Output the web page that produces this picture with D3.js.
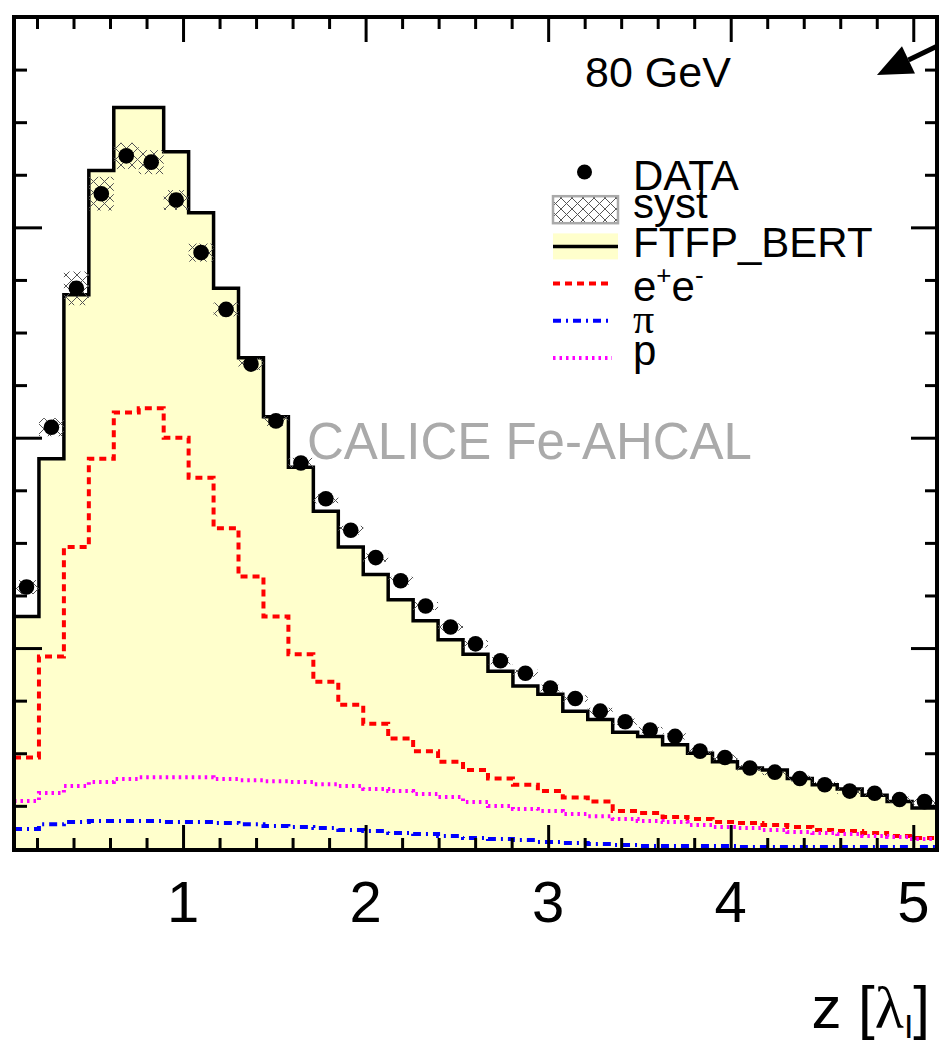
<!DOCTYPE html>
<html>
<head>
<meta charset="utf-8">
<script src="https://cdnjs.cloudflare.com/ajax/libs/d3/7.8.5/d3.min.js"></script>
<style>
body { margin: 0; background: #fff; }
svg { display: block; font-family: "Liberation Sans", Arial, Helvetica, sans-serif; }
</style>
</head>
<body>
<div id="chart-container"></div>
<script>
const w = 939;
const h = 1045;

// z binning (lambda_I), one bin per layer
const Z_LOW = 0.074;
const Z_HIGH = 5.13;
const N_BINS = 37;

// 1/N dN/dz
const dataVals = [0.129, 0.205, 0.271, 0.316, 0.334, 0.331, 0.313, 0.288, 0.261, 0.235,
    0.208, 0.188, 0.171, 0.156, 0.143, 0.132, 0.120, 0.110, 0.102, 0.094,
    0.088, 0.081, 0.076, 0.070, 0.065, 0.061, 0.058, 0.051, 0.048, 0.043,
    0.041, 0.038, 0.035, 0.032, 0.031, 0.028, 0.027];
const systErr = [0.0033, 0.0043, 0.008, 0.008, 0.0062, 0.0057, 0.0047, 0.0043, 0.0033, 0.0028,
    0.0024, 0.0024, 0.0022, 0.0021, 0.002, 0.0019, 0.0019, 0.0018, 0.0018, 0.0017,
    0.0017, 0.0016, 0.0016, 0.0016, 0.0015, 0.0015, 0.0015, 0.0015, 0.0014, 0.0014,
    0.0014, 0.0014, 0.0014, 0.0014, 0.0014, 0.0014, 0.0014];
const ftfpVals = [0.115, 0.190, 0.268, 0.327, 0.357, 0.357, 0.336, 0.307, 0.271, 0.238,
    0.210, 0.186, 0.165, 0.148, 0.135, 0.123, 0.113, 0.104, 0.097, 0.089,
    0.082, 0.078, 0.070, 0.066, 0.060, 0.058, 0.054, 0.050, 0.046, 0.043,
    0.042, 0.038, 0.035, 0.033, 0.030, 0.027, 0.024];
const eeVals = [0.048, 0.096, 0.148, 0.190, 0.212, 0.214, 0.200, 0.181, 0.157, 0.134,
    0.115, 0.097, 0.084, 0.073, 0.064, 0.057, 0.051, 0.046, 0.042, 0.038,
    0.035, 0.032, 0.029, 0.027, 0.0225, 0.0216, 0.0197, 0.0187, 0.0173, 0.0168,
    0.0159, 0.0149, 0.0135, 0.0130, 0.0121, 0.0106, 0.0097];
const piVals = [0.0140, 0.0163, 0.0173, 0.0178, 0.0178, 0.0178, 0.0173, 0.0173, 0.0168, 0.0163,
    0.0154, 0.0149, 0.0144, 0.0135, 0.0130, 0.0121, 0.0116, 0.0106, 0.0097, 0.0092,
    0.0087, 0.0078, 0.0073, 0.0068, 0.0064, 0.0059, 0.0059, 0.0059, 0.0059, 0.0054,
    0.0054, 0.0054, 0.0054, 0.0054, 0.0054, 0.0054, 0.0054];
const protonVals = [0.0273, 0.0311, 0.0344, 0.0363, 0.0377, 0.0386, 0.0386, 0.0386, 0.0377, 0.0372,
    0.0367, 0.0363, 0.0353, 0.0344, 0.0330, 0.0320, 0.0306, 0.0292, 0.0268, 0.0249,
    0.0235, 0.0225, 0.0211, 0.0201, 0.0187, 0.0178, 0.0173, 0.0159, 0.0149, 0.0144,
    0.0135, 0.0125, 0.0121, 0.0116, 0.0106, 0.0102, 0.0092];

const xMajorTicks = [1, 2, 3, 4, 5];
const yMajorTicks = [0.1, 0.2, 0.3, 0.4];

const legendLabels = ["DATA", "syst", "FTFP_BERT", "e+e-", "π", "p"];

// frame
const fx0 = 14, fx1 = 937, fy0 = 17, fy1 = 850;

const svg = d3.select("#chart-container").append("svg")
    .attr("width", w).attr("height", h);

const x = d3.scaleLinear().domain([Z_LOW, Z_HIGH]).range([fx0, fx1]);
const y = d3.scaleLinear().domain([0.004, 0.4]).range([fy1, fy0]);

const edges = d3.range(N_BINS + 1).map(i => Z_LOW + i * (Z_HIGH - Z_LOW) / N_BINS);
const centers = d3.range(N_BINS).map(i => (edges[i] + edges[i + 1]) / 2);

const defs = svg.append("defs");
defs.append("clipPath").attr("id", "plotclip")
    .append("rect").attr("x", fx0).attr("y", fy0).attr("width", fx1 - fx0).attr("height", fy1 - fy0);

// cross hatch for syst
const pat = defs.append("pattern").attr("id", "hatch")
    .attr("patternUnits", "userSpaceOnUse").attr("width", 11).attr("height", 11);
pat.append("path").attr("d", "M0,0L11,11M11,0L0,11")
    .attr("stroke", "#555").attr("stroke-width", 1).attr("fill", "none");

function stepPts(vals) {
    return vals.map((v, i) => [edges[i], v]).concat([[edges[N_BINS], vals[N_BINS - 1]]]);
}

const line = d3.line().x(d => x(d[0])).y(d => y(d[1])).curve(d3.curveStepAfter);
const area = d3.area().x(d => x(d[0])).y0(fy1).y1(d => y(d[1])).curve(d3.curveStepAfter);

const plot = svg.append("g").attr("clip-path", "url(#plotclip)");

//FTFP_BERT filled histogram
plot.append("path").datum(stepPts(ftfpVals))
    .attr("d", area).attr("fill", "#ffffcc");
plot.append("path").datum(stepPts(ftfpVals))
    .attr("d", line).attr("fill", "none").attr("stroke", "#000").attr("stroke-width", 3.5);

// components
const comps = [
    { vals: eeVals, color: "#ff0000", dash: "7,5" },
    { vals: piVals, color: "#0000ff", dash: "8,5,2,5" },
    { vals: protonVals, color: "#ff00ff", dash: "2.5,4" }
];
comps.forEach(c => {
    plot.append("path").datum(stepPts(c.vals))
        .attr("d", line).attr("fill", "none")
        .attr("stroke", c.color).attr("stroke-width", 4)
        .attr("stroke-dasharray", c.dash);
});

// syst boxes
plot.selectAll("rect.syst").data(dataVals).enter().append("rect")
    .attr("class", "syst")
    .attr("x", (d, i) => x(edges[i]))
    .attr("width", (d, i) => x(edges[i + 1]) - x(edges[i]))
    .attr("y", (d, i) => y(d + systErr[i]))
    .attr("height", (d, i) => y(d - systErr[i]) - y(d + systErr[i]))
    .attr("fill", "url(#hatch)");

// data points
plot.selectAll("circle.data").data(dataVals).enter().append("circle")
    .attr("class", "data")
    .attr("cx", (d, i) => x(centers[i]))
    .attr("cy", d => y(d))
    .attr("r", 7.8)
    .attr("fill", "#000");

// ticks, all pointing into the frame
const xMinor = d3.range(0.2, 5.1, 0.2).filter(t => Math.abs(t - Math.round(t)) > 0.01);
const yMinor = d3.range(0.025, 0.4, 0.025).filter(t => Math.abs(t * 10 - Math.round(t * 10)) > 0.01);

function tickAxis(axisFn, scale, ticks, len, tx, ty) {
    const g = svg.append("g").attr("transform", "translate(" + tx + "," + ty + ")")
        .call(axisFn(scale).tickValues(ticks).tickSizeInner(len).tickSizeOuter(0).tickFormat(""));
    g.select(".domain").remove();
    g.selectAll("line").attr("stroke", "#000").attr("stroke-width", 3);
    return g;
}

tickAxis(d3.axisBottom, x, xMinor, -12, 0, fy1);
tickAxis(d3.axisTop, x, xMinor, -12, 0, fy0);
tickAxis(d3.axisBottom, x, xMajorTicks, -25, 0, fy1);
tickAxis(d3.axisTop, x, xMajorTicks, -25, 0, fy0);
tickAxis(d3.axisLeft, y, yMinor, -13, fx0, 0);
tickAxis(d3.axisRight, y, yMinor, -12, fx1, 0);
tickAxis(d3.axisLeft, y, yMajorTicks, -28, fx0, 0);
tickAxis(d3.axisRight, y, yMajorTicks, -26, fx1, 0);

// x tick labels
svg.append("g").selectAll("text").data(xMajorTicks).enter().append("text")
    .attr("x", d => x(d)).attr("y", 922)
    .attr("text-anchor", "middle")
    .style("font-size", "58px")
    .text(d => d);

// frame
svg.append("rect").attr("x", fx0).attr("y", fy0)
    .attr("width", fx1 - fx0).attr("height", fy1 - fy0)
    .attr("fill", "none").attr("stroke", "#000").attr("stroke-width", 4);

// axis title z [lambda_I]
const xt = svg.append("text").attr("x", 930).attr("y", 1028)
    .attr("text-anchor", "end").style("font-size", "60px");
xt.append("tspan").text("z [");
xt.append("tspan").style("font-family", "'Liberation Serif', serif").text("λ");
xt.append("tspan").attr("dy", 10).style("font-size", "34px").text("I");
xt.append("tspan").attr("dy", -10).text("]");

// energy label
svg.append("text").attr("x", 585).attr("y", 87).style("font-size", "43px").text("80 GeV");

// watermark
svg.append("text").attr("x", 307).attr("y", 459)
    .style("font-size", "51px").attr("fill", "#aaaaaa")
    .text("CALICE Fe-AHCAL");

// arrow pointing into the plot, top right
const tail = [x(5.256), y(0.3914)];
const tip = [x(4.801), y(0.3724)];
const dx = tail[0] - tip[0], dy = tail[1] - tip[1];
const len = Math.sqrt(dx * dx + dy * dy);
const ux = dx / len, uy = dy / len;
const hl = 35, hw = 15;
const base = [tip[0] + ux * hl, tip[1] + uy * hl];
svg.append("line")
    .attr("x1", tail[0]).attr("y1", tail[1]).attr("x2", base[0]).attr("y2", base[1])
    .attr("stroke", "#000").attr("stroke-width", 5);
svg.append("polygon")
    .attr("points", [tip, [base[0] - uy * hw, base[1] + ux * hw], [base[0] + uy * hw, base[1] - ux * hw]]
        .map(p => p.join(",")).join(" "))
    .attr("fill", "#000");

// legend
const lg = svg.append("g").attr("class", "legend");
const lgX0 = 553, lgX1 = 618, lgTextX = 633;
const lgY0 = 172, lgStep = 37.2;
const lgBase = [190, 218, 257, 301, 333, 365];

legendLabels.forEach((lab, i) => {
    const cy = lgY0 + i * lgStep;
    if (i === 0) {
        lg.append("circle").attr("cx", (lgX0 + lgX1) / 2 - 1).attr("cy", cy).attr("r", 7.5).attr("fill", "#000");
    } else if (i === 1) {
        lg.append("rect").attr("x", lgX0).attr("y", cy - 13).attr("width", lgX1 - lgX0).attr("height", 27)
            .attr("fill", "url(#hatch)").attr("stroke", "#aaa").attr("stroke-width", 2.5);
    } else if (i === 2) {
        lg.append("rect").attr("x", lgX0).attr("y", cy - 13).attr("width", lgX1 - lgX0).attr("height", 26)
            .attr("fill", "#ffffcc");
        lg.append("line").attr("x1", lgX0).attr("x2", lgX1).attr("y1", cy).attr("y2", cy)
            .attr("stroke", "#000").attr("stroke-width", 3.5);
    } else {
        const c = comps[i - 3];
        lg.append("line").attr("x1", lgX0).attr("x2", lgX1 - 6).attr("y1", cy).attr("y2", cy)
            .attr("stroke", c.color).attr("stroke-width", 4).attr("stroke-dasharray", c.dash);
    }
    const t = lg.append("text").attr("x", lgTextX).attr("y", lgBase[i]).style("font-size", "42px");
    if (lab === "e+e-") {
        t.append("tspan").text("e");
        t.append("tspan").attr("dy", -17).style("font-size", "26px").text("+");
        t.append("tspan").attr("dy", 17).text("e");
        t.append("tspan").attr("dy", -17).style("font-size", "26px").text("-");
    } else if (lab === "π") {
        t.style("font-family", "'Liberation Serif', serif").text(lab);
    } else {
        t.text(lab);
    }
});
</script>
</body>
</html>
